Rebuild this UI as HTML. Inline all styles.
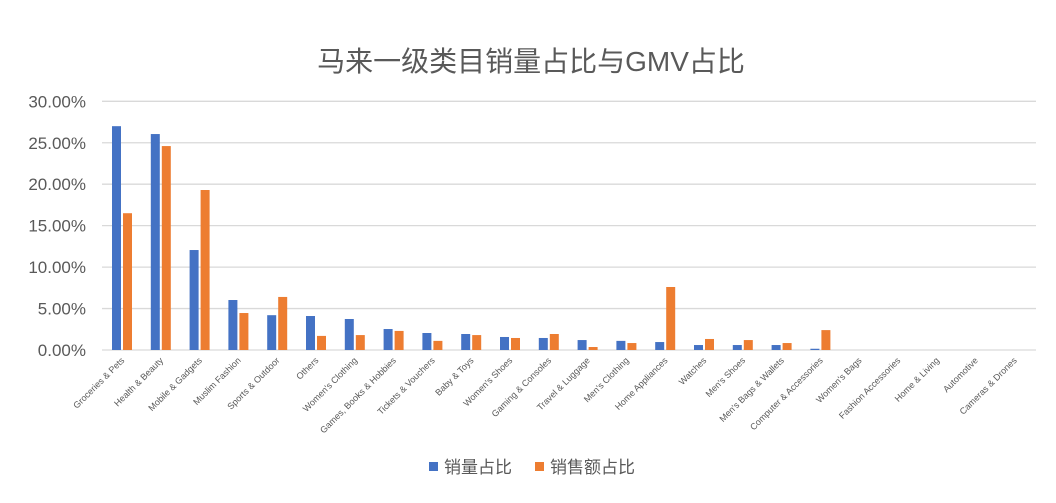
<!DOCTYPE html>
<html><head><meta charset="utf-8"><style>
html,body{margin:0;padding:0;background:#fff;}
svg text{font-family:"Liberation Sans","Noto Sans CJK SC",sans-serif;fill:#595959;}
</style></head><body>
<svg width="1056" height="498" viewBox="0 0 1056 498" xmlns="http://www.w3.org/2000/svg">
<rect width="1056" height="498" fill="#fff"/>
<text x="531" y="71" font-size="28" text-anchor="middle">马来一级类目销量占比与GMV占比</text>
<g id="grid" stroke="#d9d9d9" stroke-width="1.3"></g>
<g id="ylab" font-size="17" text-anchor="end"></g>
<g id="bars"></g>
<g id="xlab" font-size="9" text-anchor="end"></g>
<rect x="429" y="462" width="9" height="9" fill="#4472c4"/>
<text x="444" y="473" font-size="17">销量占比</text>
<rect x="535" y="462" width="9" height="9" fill="#ed7d31"/>
<text x="550" y="473" font-size="17">销售额占比</text>
</svg>
<script>
var ns="http://www.w3.org/2000/svg";
function el(p,t,a,txt){var e=document.createElementNS(ns,t);for(var k in a)e.setAttribute(k,a[k]);if(txt)e.textContent=txt;document.getElementById(p).appendChild(e);}
var y0=350,pp=8.29;
for(var i=0;i<=6;i++){var y=y0-i*5*pp;el("grid","line",{x1:102,x2:1036,y1:y,y2:y});el("ylab","text",{x:86,y:y+6},(i*5)+".00%");}
var names=["Groceries & Pets","Health & Beauty","Mobile & Gadgets","Muslim Fashion","Sports & Outdoor","Others","Women's Clothing","Games, Books & Hobbies","Tickets & Vouchers","Baby & Toys","Women's Shoes","Gaming & Consoles","Travel & Luggage","Men's Clothing","Home Appliances","Watches","Men's Shoes","Men's Bags & Wallets","Computer & Accessories","Women's Bags","Fashion Accessories","Home & Living","Automotive","Cameras & Drones"];
var b=[27.0,26.05,12.06,6.03,4.2,4.1,3.74,2.53,2.05,1.93,1.57,1.45,1.2,1.1,0.96,0.6,0.6,0.6,0.15,0,0,0,0,0];
var o=[16.5,24.6,19.3,4.46,6.4,1.7,1.8,2.3,1.1,1.8,1.45,1.93,0.36,0.84,7.6,1.33,1.2,0.84,2.4,0,0,0,0,0];
for(var i=0;i<24;i++){var x=112+i*38.8;
if(b[i]>0)el("bars","rect",{x:x,y:y0-b[i]*pp,width:9,height:b[i]*pp,fill:"#4472c4"});
if(o[i]>0)el("bars","rect",{x:x+11,y:y0-o[i]*pp,width:9,height:o[i]*pp,fill:"#ed7d31"});
var cx=x+13,cy=361;
el("xlab","text",{x:cx,y:cy,transform:"rotate(-45 "+cx+" "+cy+")"},names[i]);}
</script>
</body></html>
